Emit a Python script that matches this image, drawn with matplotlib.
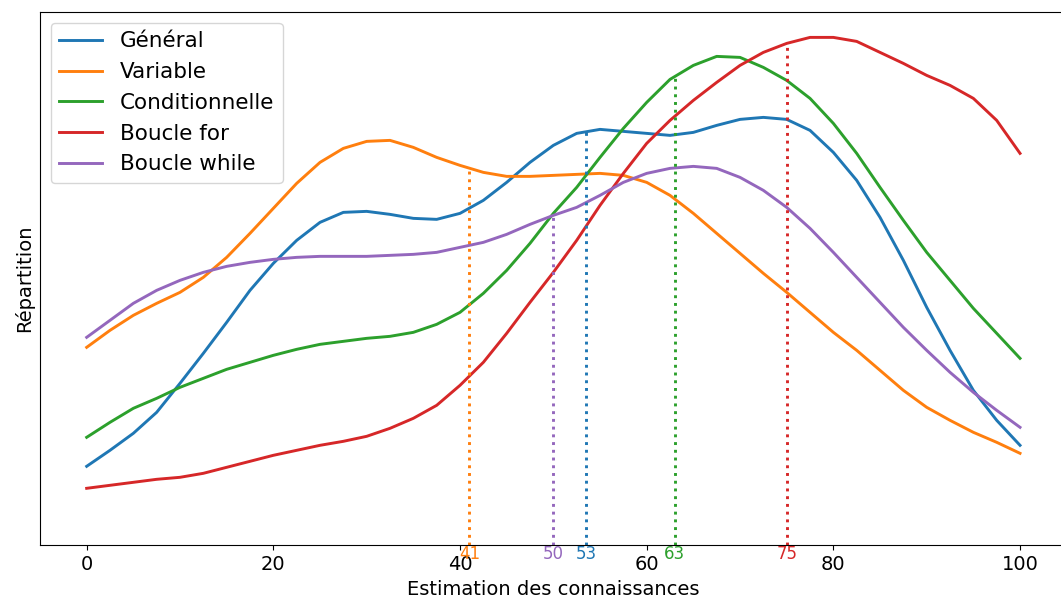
import numpy as np
from matplotlib import pyplot as plt

# estimation grid (0..100, step 2.5)
x = np.linspace(0, 100, 41)

labels = ['Général', 'Variable', 'Conditionnelle', 'Boucle for', 'Boucle while']
colors = ['tab:blue', 'tab:orange', 'tab:green', 'tab:red', 'tab:purple']

general = [0.79, 0.95, 1.12, 1.33, 1.62, 1.92, 2.23, 2.55, 2.82, 3.05, 3.23, 3.33, 3.34, 3.31,
           3.27, 3.26, 3.32, 3.45, 3.63, 3.83, 4.00, 4.12, 4.16, 4.14, 4.12, 4.10, 4.13, 4.20,
           4.26, 4.28, 4.26, 4.15, 3.93, 3.65, 3.28, 2.85, 2.38, 1.95, 1.55, 1.25, 1.00]
variable = [1.98, 2.15, 2.30, 2.42, 2.53, 2.68, 2.88, 3.12, 3.37, 3.62, 3.83, 3.97, 4.04, 4.05,
            3.98, 3.88, 3.80, 3.73, 3.69, 3.69, 3.70, 3.71, 3.72, 3.70, 3.63, 3.50, 3.32, 3.12,
            2.92, 2.72, 2.53, 2.33, 2.13, 1.95, 1.75, 1.55, 1.38, 1.25, 1.13, 1.03, 0.92]
conditionnelle = [1.08, 1.23, 1.37, 1.47, 1.58, 1.67, 1.76, 1.83, 1.90, 1.96, 2.01, 2.04, 2.07,
                  2.09, 2.13, 2.21, 2.33, 2.52, 2.75, 3.02, 3.32, 3.58, 3.88, 4.17, 4.43, 4.66,
                  4.80, 4.89, 4.88, 4.78, 4.65, 4.47, 4.22, 3.92, 3.58, 3.25, 2.93, 2.65, 2.37,
                  2.12, 1.87]
boucle_for = [0.57, 0.60, 0.63, 0.66, 0.68, 0.72, 0.78, 0.84, 0.90, 0.95, 1.00, 1.04, 1.09, 1.17,
              1.27, 1.40, 1.60, 1.83, 2.12, 2.43, 2.73, 3.05, 3.40, 3.72, 4.02, 4.25, 4.45, 4.63,
              4.80, 4.93, 5.02, 5.08, 5.08, 5.04, 4.93, 4.82, 4.70, 4.60, 4.47, 4.25, 3.92]
boucle_while = [2.08, 2.25, 2.42, 2.55, 2.65, 2.73, 2.79, 2.83, 2.86, 2.88, 2.89, 2.89, 2.89, 2.90,
                2.91, 2.93, 2.98, 3.03, 3.11, 3.21, 3.30, 3.38, 3.50, 3.63, 3.72, 3.77, 3.79, 3.77,
                3.68, 3.55, 3.38, 3.17, 2.93, 2.68, 2.43, 2.18, 1.95, 1.73, 1.53, 1.35, 1.18]
series = [general, variable, conditionnelle, boucle_for, boucle_while]

# mean estimation per category
means = [53.5, 41, 63, 75, 50]

fig = plt.figure(figsize=(10.61, 6.1), dpi=100)
ax = fig.add_axes([40 / 1061, 64.7 / 610, 1026.7 / 1061, 533.3 / 610])

for y, lab, c in zip(series, labels, colors):
    ax.plot(x, y, color=c, lw=2.1, label=lab)

for y, m, c in zip(series, means, colors):
    top = np.interp(m, x, y)
    ax.vlines(m, 0, top, colors=c, linestyles=':', lw=2.1)
    ax.text(m, 0, str(int(m)), color=c, ha='center', va='top', fontsize=12)

ax.set_xlim(-5, 105)
ax.set_ylim(0, 5.334)
ax.set_xticks([0, 20, 40, 60, 80, 100])
ax.set_yticks([])
ax.tick_params(axis='x', labelsize=14)
ax.set_xlabel('Estimation des connaissances', fontsize=14)
ax.set_ylabel('Répartition', fontsize=14)
ax.legend(loc='upper left', fontsize=15.5)

plt.savefig('out.png', dpi=100)
